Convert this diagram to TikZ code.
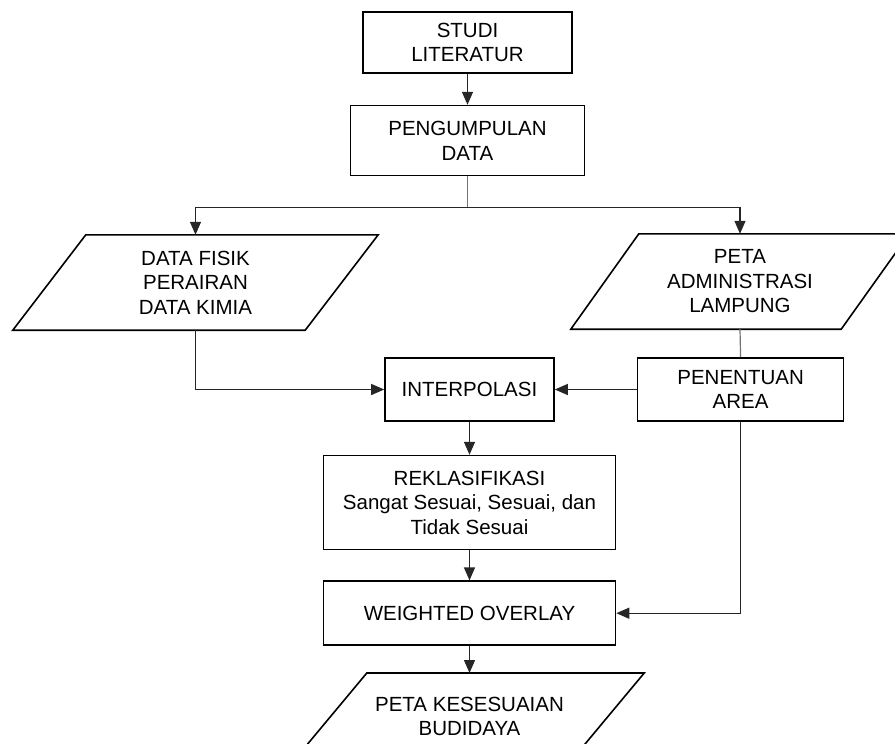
\documentclass[tikz,border=0pt]{standalone}
\usepackage{fontspec}
\setmainfont{Liberation Sans}
\usetikzlibrary{positioning,arrows.meta}

\begin{document}
\begin{tikzpicture}[x=1pt,y=1pt,>={Triangle[length=13pt,width=11pt]},
  every node/.style={font=\fontsize{20.5}{24.5}\selectfont,align=center,inner sep=0pt},
  box/.style={draw,line width=1.6pt,minimum width=#1},
  io/.style={minimum width=#1,minimum height=95pt},
  arr/.style={->,line width=1.3pt,black!85},
  link/.style={line width=1.2pt,black!55}]
\useasboundingbox (0,0) rectangle (895,-744);
\clip (0,0) rectangle (895,-744);
\node[box=209pt,minimum height=61pt] (studi) at (467.5,-42.5) {STUDI\\LITERATUR};
\node[box=234pt,minimum height=70pt,below=31pt of studi] (kumpul) {PENGUMPULAN\\DATA};
\coordinate[below=31pt of kumpul] (cabang);
\node[io=292pt] (fisik) at (195.5,-282.5) {DATA FISIK\\PERAIRAN\\DATA KIMIA};
\node[io=270pt] (peta) at (740,-281.5) {PETA\\ADMINISTRASI\\LAMPUNG};
\node[box=169pt,minimum height=63pt] (interp) at (469.5,-389.5) {INTERPOLASI};
\node[box=206pt,minimum height=63pt,right=82pt of interp] (area) {PENENTUAN\\AREA};
\node[box=292pt,minimum height=94pt,below=33pt of interp] (reklas) {REKLASIFIKASI\\Sangat Sesuai, Sesuai, dan\\Tidak Sesuai};
\node[box=292pt,minimum height=64pt,below=30pt of reklas] (overlay) {WEIGHTED OVERLAY};
\node[io=277pt,minimum height=86pt,below=27pt of overlay] (hasil) {PETA KESESUAIAN\\BUDIDAYA};
\foreach \n/\s in {fisik/36.5pt,peta/34pt,hasil/36pt}
  \draw[line width=1.6pt] ([xshift=-\s]\n.south west) -- ([xshift=\s]\n.north west)
    -- ([xshift=\s]\n.north east) -- ([xshift=-\s]\n.south east) -- cycle;
\draw[arr] (studi) -- (kumpul);
\draw[link] (kumpul) -- (cabang);
\draw[arr] (cabang) -| (fisik.north);
\draw[arr] (cabang) -| (peta.north);
\draw[arr] (fisik.south) |- (interp.west);
\draw[link] (peta.south) -- (area.north);
\draw[arr] (area.west) -- (interp.east);
\draw[arr] (interp) -- (reklas);
\draw[arr] (reklas) -- (overlay);
\draw[arr] (area.south) |- (overlay.east);
\draw[arr] (overlay) -- (hasil.north);
\end{tikzpicture}
\end{document}
